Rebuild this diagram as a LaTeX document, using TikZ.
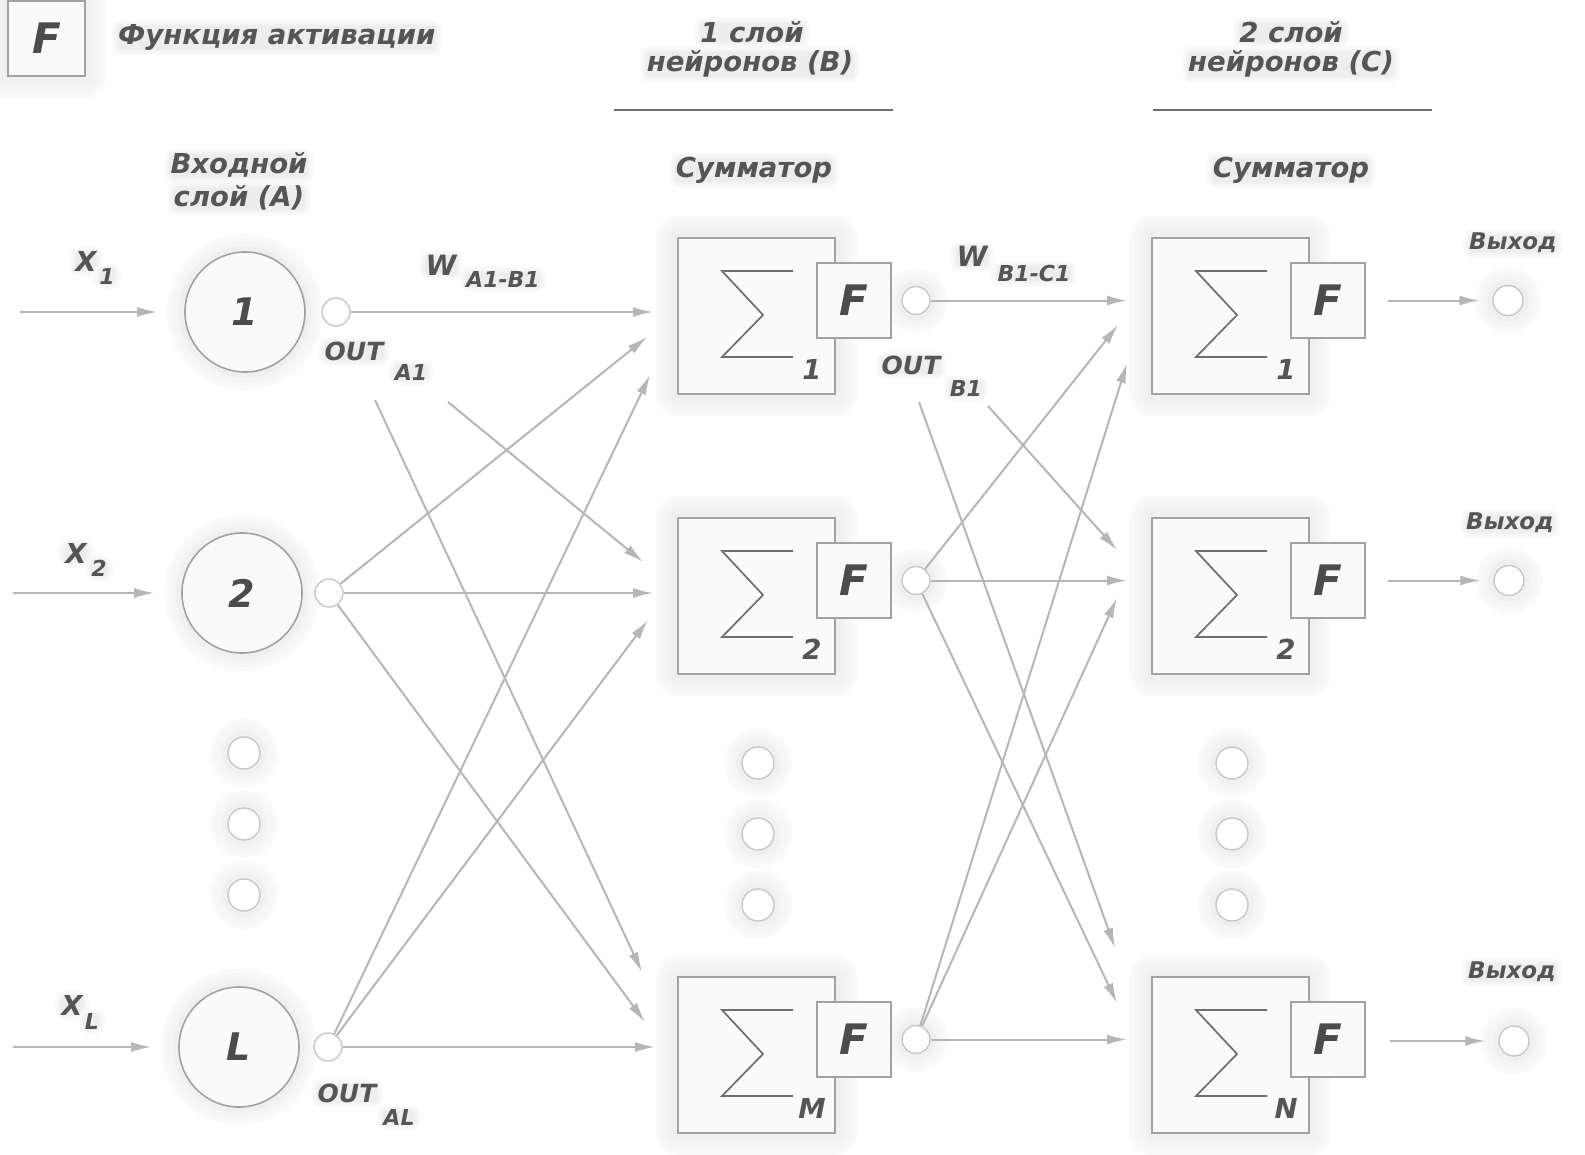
\documentclass[tikz,border=0pt]{standalone}
\usepackage{fontspec}
\setmainfont{DejaVu Sans}
\usetikzlibrary{arrows.meta,calc}
\pgfdeclarelayer{bg}
\pgfdeclarelayer{glow}
\pgfsetlayers{bg,glow,main}
\definecolor{lc}{HTML}{B6B6B6}
\definecolor{bc}{HTML}{A2A2A2}
\definecolor{tc}{HTML}{555555}
\definecolor{fc}{HTML}{FAFAFA}
\tikzset{
  lbl/.style={font=\fontsize{27.5}{32}\selectfont\bfseries\itshape, text=tc, inner sep=0pt},
  olbl/.style={font=\fontsize{25}{30}\selectfont\bfseries\itshape, text=tc, inner sep=0pt},
  wlbl/.style={font=\fontsize{28}{30}\selectfont\bfseries\itshape, text=tc, inner sep=0pt},
  sublbl/.style={font=\fontsize{22}{24}\selectfont\bfseries\itshape, text=tc, inner sep=0pt},
  outlbl/.style={font=\fontsize{23}{28}\selectfont\bfseries\itshape, text=tc, inner sep=0pt},
  conn/.style={draw=lc, line width=2pt, -{Latex[length=20pt,width=10pt]}},
  hline/.style={draw=tc!85, line width=2.6pt},
  bigbox/.style={rectangle, draw=bc, fill=fc, line width=1.8pt, minimum width=157pt, minimum height=156pt, inner sep=0pt},
  fbox/.style={rectangle, draw=bc, fill=fc, line width=1.8pt, minimum width=74pt, minimum height=75pt, inner sep=0pt,
     font=\fontsize{42}{42}\selectfont\bfseries\itshape, text=tc!90!black},
  incirc/.style={circle, draw=bc, fill=fc, line width=1.6pt, minimum size=120pt, inner sep=0pt,
     font=\fontsize{38}{38}\selectfont\bfseries\itshape, text=tc!90!black},
  ocirc/.style={circle, draw=bc!60, fill=white, line width=1.4pt, minimum size=28pt, inner sep=0pt},
  dotc/.style={circle, draw=bc!60, fill=white, line width=1.4pt, minimum size=32pt, inner sep=0pt},
  sig/.style={draw=tc!85, line width=1.7pt, line join=miter},
}
\newcommand\glowrect[4]{%
  \begin{pgfonlayer}{glow}
  \foreach \w/\c in {44/2,36/3,28/4,20/5,12/6}{\draw[line width=\w pt, draw=black!\c, line join=round] ({#1},{#2}) rectangle ({#3},{#4});}
  \end{pgfonlayer}}
\newcommand\glowcirc[3]{%
  \begin{pgfonlayer}{glow}
  \foreach \w/\c in {36/2,28/3,20/4,12/6}{\draw[line width=\w pt, draw=black!\c] ({#1},{#2}) circle[radius=#3pt];}
  \end{pgfonlayer}}
% text label with a soft shadow behind it: name, style, x, y, text
\newcommand\tl[5]{%
  \node[#2] (#1) at (#3,#4) {#5};
  \begin{pgfonlayer}{glow}
  \foreach \w/\c in {14/2,10/3,6/5,2/7}{%
    \draw[line width=\w pt, draw=black!\c, fill=black!7, rounded corners=3pt]
      ($(#1.south west)+(1,-2)$) rectangle ($(#1.north east)+(-1,3)$);}
  \end{pgfonlayer}}
\newcommand\nrn[4]{%
  \glowrect{#2}{#3}{#2+157}{#3+156}
  \node[bigbox] (#1) at ({#2+78.5},{#3+78}) {};
  \draw[sig] ({#2+115},{#3+33}) -- ({#2+44},{#3+33}) -- ({#2+85},{#3+77}) -- ({#2+44},{#3+119}) -- ({#2+115},{#3+119});
  \node[lbl] (#1s) at ({#2+134},{#3+131}) {#4};
  \node[fbox] (#1F) at ({#2+176},{#3+62.5}) {F};
}
\begin{document}
\begin{tikzpicture}[x=1pt,y=-1pt]
\useasboundingbox (0,0) rectangle (1585,1154);
\begin{pgfonlayer}{bg}
\fill[white] (0,0) rectangle (1585,1154);
\end{pgfonlayer}

% legend
\glowrect{8}{1}{85}{76}
\node[fbox, minimum width=77pt, minimum height=75pt] (leg) at (46.5,38.5) {F};
\tl{legt}{lbl, anchor=west}{118}{37}{Функция активации}

% headings
\tl{h1a}{lbl}{752}{32}{1 слой}
\tl{h1b}{lbl}{750}{64}{нейронов (B)}
\draw[hline] (614,110) -- (893,110);
\tl{sumB}{lbl}{754}{170}{Сумматор}
\tl{h2a}{lbl}{1291}{32}{2 слой}
\tl{h2b}{lbl}{1291}{64}{нейронов (C)}
\draw[hline] (1153,110) -- (1432,110);
\tl{sumC}{lbl}{1291}{170}{Сумматор}
\tl{inA1}{lbl}{239}{165}{Входной}
\tl{inA2}{lbl}{239}{198}{слой (A)}

% input layer
\glowcirc{245}{312}{60}
\glowcirc{242}{593}{60}
\glowcirc{239}{1047}{60}
\node[incirc] (A1) at (245,312) {1};
\node[incirc] (A2) at (242,593) {2};
\node[incirc] (AL) at (239,1047) {L};
\node[ocirc] (oA1) at (336,312) {};
\node[ocirc] (oA2) at (329,593) {};
\node[ocirc] (oAL) at (328,1047) {};

\foreach \y [count=\i] in {753,824,895}{
  \glowcirc{244}{\y}{16}
  \node[dotc] (dA\i) at (244,\y) {};
  \glowcirc{758}{\y+10}{16}
  \node[dotc] (dB\i) at (758,\y+10) {};
  \glowcirc{1232}{\y+10}{16}
  \node[dotc] (dC\i) at (1232,\y+10) {};
}

% X labels
\tl{X1}{lbl}{86}{261}{X}
\tl{X1s}{sublbl}{107}{276}{1}
\tl{X2}{lbl}{76}{553}{X}
\tl{X2s}{sublbl}{99}{568}{2}
\tl{XL}{lbl}{72}{1005}{X}
\tl{XLs}{sublbl}{92}{1021}{L}
\coordinate (xA1) at (20,312);
\coordinate (xA2) at (13,593);
\coordinate (xAL) at (13,1047);
\draw[conn, shorten >=27pt] (xA1) -- (A1);
\draw[conn, shorten >=27pt] (xA2) -- (A2);
\draw[conn, shorten >=27pt] (xAL) -- (AL);

% OUT and W labels
\tl{OA1}{olbl}{354}{351}{OUT}
\tl{OA1s}{sublbl}{411}{372}{A1}
\tl{OAL}{olbl}{347}{1093}{OUT}
\tl{OALs}{sublbl}{399}{1117}{AL}
\tl{OB1}{olbl}{911}{365}{OUT}
\tl{OB1s}{sublbl}{966}{388}{B1}
\tl{WA}{wlbl}{441}{265}{W}
\tl{WAs}{sublbl}{503}{279}{A1-B1}
\tl{WB}{wlbl}{972}{256}{W}
\tl{WBs}{sublbl}{1034}{273}{B1-C1}

% neurons
\nrn{B1}{678}{238}{1}
\nrn{B2}{678}{518}{2}
\nrn{BM}{678}{977}{M}
\nrn{C1}{1152}{238}{1}
\nrn{C2}{1152}{518}{2}
\nrn{CN}{1152}{977}{N}
\glowcirc{916}{300.5}{14}
\glowcirc{916}{580.5}{14}
\glowcirc{916}{1039.5}{14}
\node[ocirc] (oB1) at (916,300.5) {};
\node[ocirc] (oB2) at (916,580.5) {};
\node[ocirc] (oBM) at (916,1039.5) {};

% outputs
\glowcirc{1508}{300.5}{15}
\glowcirc{1509}{580.5}{15}
\glowcirc{1514}{1041}{15}
\node[ocirc, minimum size=30pt] (oC1) at (1508,300.5) {};
\node[ocirc, minimum size=30pt] (oC2) at (1509,580.5) {};
\node[ocirc, minimum size=30pt] (oCN) at (1514,1041) {};
\tl{V1}{outlbl}{1513}{243}{Выход}
\tl{V2}{outlbl}{1510}{523}{Выход}
\tl{VN}{outlbl}{1512}{972}{Выход}
\coordinate (sC1) at (1388,300.5);
\coordinate (sC2) at (1388,580.5);
\coordinate (sCN) at (1390,1041);
\draw[conn, shorten >=13pt] (sC1) -- (oC1);
\draw[conn, shorten >=13pt] (sC2) -- (oC2);
\draw[conn, shorten >=13pt] (sCN) -- (oCN);

% A -> B connectors
\coordinate (tB1a) at (653,312);
\coordinate (tB1b) at (647,337);
\coordinate (tB1c) at (650,375);
\coordinate (tB2a) at (643,562);
\coordinate (tB2b) at (653,593);
\coordinate (tB2c) at (648,620);
\coordinate (tBMa) at (642,972);
\coordinate (tBMb) at (645,1022);
\coordinate (tBMc) at (655,1047);
\coordinate (sA1b) at (448,402);
\coordinate (sA1c) at (375,400);
\draw[conn] (oA1) -- (tB1a);
\draw[conn] (sA1b) -- (tB2a);
\draw[conn] (sA1c) -- (tBMa);
\draw[conn] (oA2) -- (tB1b);
\draw[conn] (oA2) -- (tB2b);
\draw[conn] (oA2) -- (tBMb);
\draw[conn] (oAL) -- (tB1c);
\draw[conn] (oAL) -- (tB2c);
\draw[conn] (oAL) -- (tBMc);

% B -> C connectors
\coordinate (tC1a) at (1127,300.5);
\coordinate (tC1b) at (1118,325);
\coordinate (tC1c) at (1127,363);
\coordinate (tC2a) at (1117,550);
\coordinate (tC2b) at (1127,580.5);
\coordinate (tC2c) at (1117,598);
\coordinate (tCNa) at (1115,948);
\coordinate (tCNb) at (1117,1003);
\coordinate (tCNc) at (1127,1039.5);
\coordinate (sB1b) at (988,406);
\coordinate (sB1c) at (919,402);
\draw[conn] (oB1) -- (tC1a);
\draw[conn] (sB1b) -- (tC2a);
\draw[conn] (sB1c) -- (tCNa);
\draw[conn] (oB2) -- (tC1b);
\draw[conn] (oB2) -- (tC2b);
\draw[conn] (oB2) -- (tCNb);
\draw[conn] (oBM) -- (tC1c);
\draw[conn] (oBM) -- (tC2c);
\draw[conn] (oBM) -- (tCNc);
\end{tikzpicture}
\end{document}
